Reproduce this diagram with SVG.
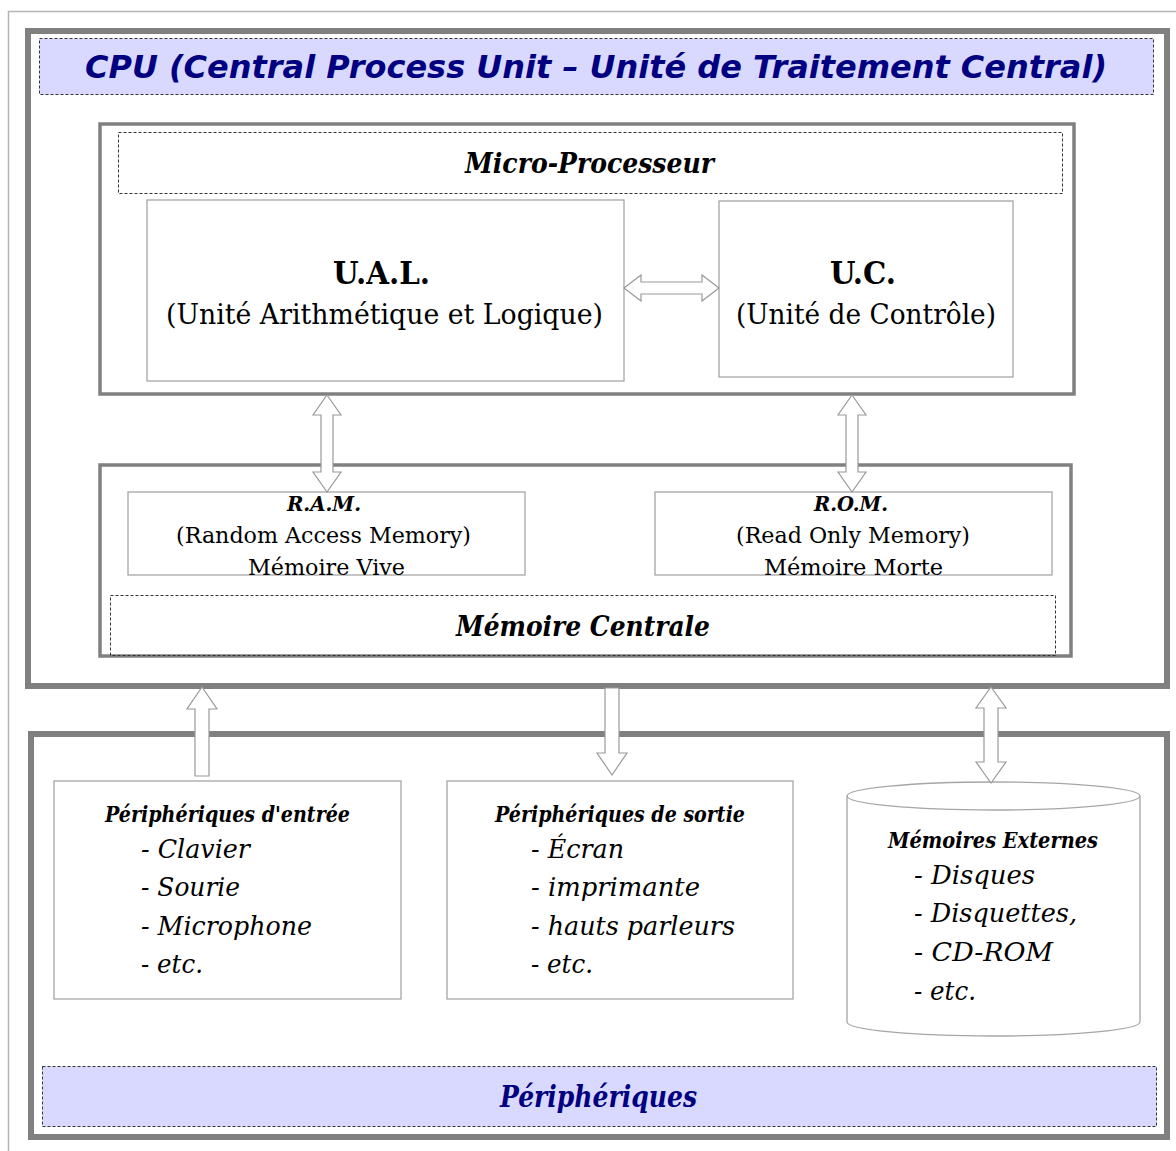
<svg xmlns="http://www.w3.org/2000/svg" width="1176" height="1151" viewBox="0 0 1176 1151">
<style>
.page{fill:none;stroke:#b4b4b4;stroke-width:1.5}
.thick{fill:#fff;stroke:#808080;stroke-width:6}
.mid{fill:#fff;stroke:#808080;stroke-width:3.5}
.thin{fill:#fff;stroke:#a6a6a6;stroke-width:1.3}
.dash{stroke:#333;stroke-width:1;stroke-dasharray:3 2}
.band{fill:#d9d9ff}
.nofill{fill:none}
.arrow{fill:#fff;stroke:#999;stroke-width:1.2}
.title{font-family:"DejaVu Sans",sans-serif;font-weight:bold;font-style:italic;fill:#000080}
.serif{font-family:"DejaVu Serif","Liberation Serif",serif;fill:#000}
.b{font-weight:bold}
.i{font-style:italic}
.navy{fill:#000080}
</style>
<rect width="1176" height="1151" fill="#fff"/>
<path class="page" d="M1176,11.5 H8.5 V1151"/>

<g id="cpu">
  <rect class="thick" x="28" y="31" width="1139" height="655"/>
  <rect class="band dash" x="39.5" y="38.5" width="1114" height="56"/>
  <text class="title" x="85" y="78" font-size="32" textLength="1022" lengthAdjust="spacingAndGlyphs">CPU (Central Process Unit – Unité de Traitement Central)</text>
</g>

<g id="microprocesseur">
  <rect class="mid" x="100" y="124" width="974" height="270"/>
  <rect class="nofill dash" x="118.5" y="132.5" width="944" height="61"/>
  <text class="serif b i" x="465" y="173" font-size="28" textLength="249" lengthAdjust="spacingAndGlyphs">Micro-Processeur</text>
</g>

<g id="ual">
  <rect class="thin" x="147" y="200" width="477" height="181"/>
  <text class="serif b" x="333" y="284" font-size="31" textLength="97" lengthAdjust="spacingAndGlyphs">U.A.L.</text>
  <text class="serif" x="166" y="324" font-size="27" textLength="437" lengthAdjust="spacingAndGlyphs">(Unité Arithmétique et Logique)</text>
</g>

<g id="uc">
  <rect class="thin" x="719" y="201" width="294" height="176"/>
  <text class="serif b" x="830" y="284" font-size="31" textLength="66" lengthAdjust="spacingAndGlyphs">U.C.</text>
  <text class="serif" x="736" y="324" font-size="27" textLength="260" lengthAdjust="spacingAndGlyphs">(Unité de Contrôle)</text>
</g>

<g id="memoire-centrale">
  <rect class="mid" x="100" y="465" width="971" height="191"/>
  <rect class="nofill dash" x="110.5" y="595.5" width="945" height="60"/>
  <text class="serif b i" x="456" y="636" font-size="28" textLength="254" lengthAdjust="spacingAndGlyphs">Mémoire Centrale</text>
</g>

<g id="ram">
  <rect class="thin" x="128" y="492" width="397" height="83"/>
  <text class="serif b i" x="287" y="511" font-size="21" textLength="74" lengthAdjust="spacingAndGlyphs">R.A.M.</text>
  <text class="serif" x="176" y="543" font-size="22" textLength="295" lengthAdjust="spacingAndGlyphs">(Random Access Memory)</text>
  <text class="serif" x="248" y="575" font-size="22" textLength="157" lengthAdjust="spacingAndGlyphs">Mémoire Vive</text>
</g>

<g id="rom">
  <rect class="thin" x="655" y="492" width="397" height="83"/>
  <text class="serif b i" x="814" y="511" font-size="21" textLength="74" lengthAdjust="spacingAndGlyphs">R.O.M.</text>
  <text class="serif" x="736" y="543" font-size="22" textLength="234" lengthAdjust="spacingAndGlyphs">(Read Only Memory)</text>
  <text class="serif" x="764" y="575" font-size="22" textLength="179" lengthAdjust="spacingAndGlyphs">Mémoire Morte</text>
</g>

<g id="peripheriques">
  <rect class="thick" x="31" y="734" width="1136" height="403"/>
  <rect class="band dash" x="42.5" y="1066.5" width="1114" height="60"/>
  <text class="serif b i navy" x="500" y="1107" font-size="30" textLength="197" lengthAdjust="spacingAndGlyphs">Périphériques</text>
</g>

<g id="entree">
  <rect class="thin" x="54" y="781" width="347" height="218"/>
  <text class="serif b i" x="105" y="822" font-size="22" textLength="245" lengthAdjust="spacingAndGlyphs">Périphériques d'entrée</text>
  <text class="serif i" x="141" y="858" font-size="26" textLength="109" lengthAdjust="spacingAndGlyphs">- Clavier</text>
  <text class="serif i" x="141" y="896" font-size="26" textLength="99" lengthAdjust="spacingAndGlyphs">- Sourie</text>
  <text class="serif i" x="141" y="935" font-size="26" textLength="171" lengthAdjust="spacingAndGlyphs">- Microphone</text>
  <text class="serif i" x="141" y="973" font-size="26" textLength="62" lengthAdjust="spacingAndGlyphs">- etc.</text>
</g>

<g id="sortie">
  <rect class="thin" x="447" y="781" width="346" height="218"/>
  <text class="serif b i" x="495" y="822" font-size="22" textLength="250" lengthAdjust="spacingAndGlyphs">Périphériques de sortie</text>
  <text class="serif i" x="531" y="858" font-size="26" textLength="93" lengthAdjust="spacingAndGlyphs">- Écran</text>
  <text class="serif i" x="531" y="896" font-size="26" textLength="169" lengthAdjust="spacingAndGlyphs">- imprimante</text>
  <text class="serif i" x="531" y="935" font-size="26" textLength="204" lengthAdjust="spacingAndGlyphs">- hauts parleurs</text>
  <text class="serif i" x="531" y="973" font-size="26" textLength="62" lengthAdjust="spacingAndGlyphs">- etc.</text>
</g>

<g id="memoires-externes">
  <path class="thin" d="M847,796 A146.5,14 0 0 1 1140,796 V1022 A146.5,14 0 0 1 847,1022 Z"/>
  <path class="nofill" stroke="#a6a6a6" stroke-width="1.3" d="M847,796 A146.5,14 0 0 0 1140,796"/>
  <text class="serif b i" x="888" y="848" font-size="22" textLength="210" lengthAdjust="spacingAndGlyphs">Mémoires Externes</text>
  <text class="serif i" x="914" y="884" font-size="26" textLength="121" lengthAdjust="spacingAndGlyphs">- Disques</text>
  <text class="serif i" x="914" y="922" font-size="26" textLength="163" lengthAdjust="spacingAndGlyphs">- Disquettes,</text>
  <text class="serif i" x="914" y="961" font-size="26" textLength="139" lengthAdjust="spacingAndGlyphs">- CD-ROM</text>
  <text class="serif i" x="914" y="1000" font-size="26" textLength="62" lengthAdjust="spacingAndGlyphs">- etc.</text>
</g>

<g id="connectors">
  <path class="arrow" d="M624,288 L641,275 L641,282 L702,282 L702,275 L719,288 L702,301 L702,294 L641,294 L641,301 Z"/>
  <path class="arrow" d="M327,395 L341,415 L333,415 L333,472 L341,472 L327,492 L313,472 L321,472 L321,415 L313,415 Z"/>
  <path class="arrow" d="M852,395 L866,415 L858,415 L858,472 L866,472 L852,492 L838,472 L846,472 L846,415 L838,415 Z"/>
  <path class="arrow" d="M202,687 L217,709 L209,709 L209,776 L195,776 L195,709 L187,709 Z"/>
  <path class="arrow" d="M605,688 L619,688 L619,753 L627,753 L612,775 L597,753 L605,753 Z"/>
  <path class="arrow" d="M991,687 L1006,708 L998,708 L998,762 L1006,762 L991,783 L976,762 L984,762 L984,708 L976,708 Z"/>
</g>
</svg>
